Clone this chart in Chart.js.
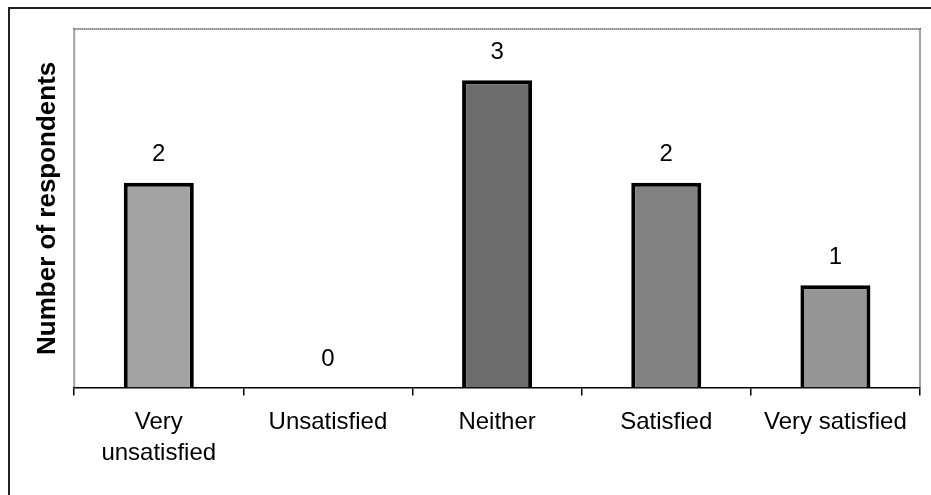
<!DOCTYPE html>
<html>
<head>
<meta charset="utf-8">
<script src="https://cdn.jsdelivr.net/npm/chart.js@4/dist/chart.umd.min.js"></script>
<style>
  html, body { margin: 0; padding: 0; background: #fff; }
  #wrap { position: relative; width: 931px; height: 495px; }
  #frame { position: absolute; left: 8px; top: 7px; right: -4px; bottom: -4px;
           border-left: 2px solid #222; border-top: 2px solid #222; }
  canvas { position: absolute; left: 0; top: 0; }
</style>
</head>
<body>
<div id="wrap">
  <div id="frame"></div>
  <canvas id="chart" width="931" height="495"></canvas>
</div>
<script>
var categories = [['Very', 'unsatisfied'], 'Unsatisfied', 'Neither', 'Satisfied', 'Very satisfied'];
var respondents = [2, 0, 3, 2, 1];
var barColors = ['#a3a3a3', '#a3a3a3', '#6c6c6c', '#828282', '#959595'];
var yTitle = 'Number of respondents';

var fontFamily = '"Liberation Sans", Arial, sans-serif';

// dotted border round the plot area
var plotBorder = {
    id: 'plotBorder',
    afterDraw: function (chart) {
        var a = chart.chartArea, ctx = chart.ctx;
        ctx.save();
        ctx.strokeStyle = '#444';
        ctx.lineWidth = 2;
        ctx.setLineDash([1, 1]);
        ctx.beginPath();
        ctx.moveTo(a.left, a.bottom);
        ctx.lineTo(a.left, a.top);
        ctx.lineTo(a.right, a.top);
        ctx.lineTo(a.right, a.bottom);
        ctx.stroke();
        ctx.restore();
    }
};

// value labels above the bars
var valueLabels = {
    id: 'valueLabels',
    afterDatasetsDraw: function (chart) {
        var ctx = chart.ctx;
        var meta = chart.getDatasetMeta(0);
        ctx.save();
        ctx.fillStyle = '#000';
        ctx.font = '24px ' + fontFamily;
        ctx.textAlign = 'center';
        ctx.textBaseline = 'middle';
        meta.data.forEach(function (bar, i) {
            ctx.fillText(String(respondents[i]), bar.x, bar.y - 28);
        });
        ctx.restore();
    }
};

var ctx = document.getElementById('chart').getContext('2d');
new Chart(ctx, {
    type: 'bar',
    data: {
        labels: categories,
        datasets: [{
            data: respondents,
            backgroundColor: barColors,
            borderColor: '#000',
            borderWidth: 4,
            categoryPercentage: 1,
            barPercentage: 0.414
        }]
    },
    options: {
        responsive: false,
        animation: false,
        layout: { padding: { left: 30, top: 29, right: 11, bottom: 15 } },
        plugins: {
            legend: { display: false },
            tooltip: { enabled: false }
        },
        scales: {
            x: {
                grid: {
                    display: true,
                    drawOnChartArea: false,
                    drawTicks: true,
                    tickLength: 8,
                    color: '#000',
                    lineWidth: 1.5,
                    offset: true
                },
                border: { display: true, color: '#000', width: 1.5 },
                ticks: {
                    color: '#000',
                    font: { family: fontFamily, size: 24, lineHeight: 1.3 },
                    padding: 11,
                    maxRotation: 0,
                    autoSkip: false
                }
            },
            y: {
                min: 0,
                max: 3.5,
                grid: { display: false, drawTicks: false },
                border: { display: false },
                ticks: { display: false },
                title: {
                    display: true,
                    text: yTitle,
                    color: '#000',
                    font: { family: fontFamily, size: 26, weight: 'bold' },
                    padding: { top: 2, bottom: 11 }
                }
            }
        }
    },
    plugins: [plotBorder, valueLabels]
});
</script>
</body>
</html>
